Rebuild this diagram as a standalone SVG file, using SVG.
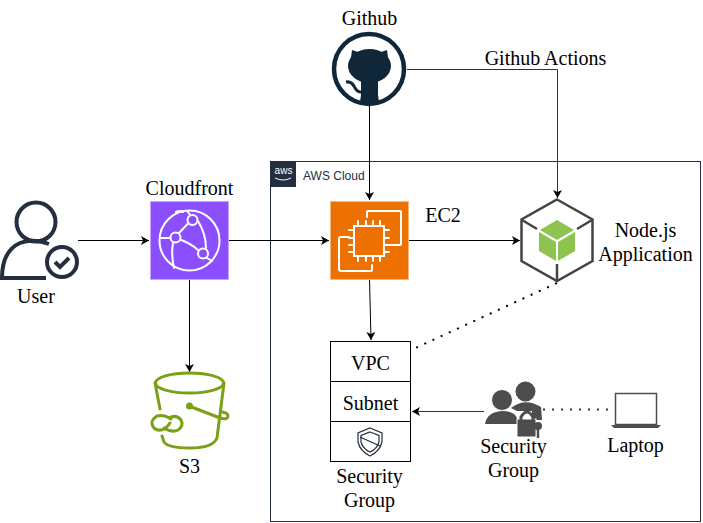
<svg xmlns="http://www.w3.org/2000/svg" width="703" height="523" viewBox="0 0 703 523">
<style>
.t{font-family:"Liberation Serif","Times New Roman",serif;font-size:20px;fill:#000;text-anchor:middle}
.c{fill:none;stroke:#000;stroke-width:1}
.w{fill:none;stroke:#fff;stroke-width:2;stroke-linecap:round;stroke-linejoin:round}
.box{fill:#fff;stroke:#000;stroke-width:1}
.g{fill:none;stroke:#7aa116;stroke-width:3;stroke-linecap:round}
.p{fill:#4d4d4d}
</style>
<defs>
<marker id="a" markerUnits="userSpaceOnUse" markerWidth="10" markerHeight="10" refX="8" refY="4.500" orient="auto"><path d="M0 0L8 4.500L0 9L2 4.500Z" fill="#000"/></marker>
</defs>
<rect width="703" height="523" fill="#fff"/>
<g id="aws-cloud">
<rect x="270.500" y="161.500" width="430" height="360" fill="#fff" stroke="#232f3e"/>
<rect x="271" y="162" width="25" height="25" fill="#232f3e"/>
<text x="283.500" y="174" font-family="Liberation Sans,sans-serif" font-size="10" fill="#fff" text-anchor="middle">aws</text>
<path d="M275 178q8.500 4 16 0" fill="none" stroke="#fff"/>
<text x="303" y="180" font-family="Liberation Sans,Arial,sans-serif" font-size="12" fill="#232f3e">AWS Cloud</text>
</g>
<g id="connectors">
<path class="c" d="M78 240.500H149" marker-end="url(#a)"/>
<path class="c" d="M229 240.500H329" marker-end="url(#a)"/>
<path class="c" d="M189.500 279V372" marker-end="url(#a)"/>
<path class="c" d="M369.500 106V200" marker-end="url(#a)"/>
<path class="c" d="M407 69.500H557.500V198" marker-end="url(#a)" stroke-opacity=".8"/>
<path class="c" d="M409 240.500H520" marker-end="url(#a)"/>
<path class="c" d="M369.500 279L371 340" marker-end="url(#a)"/>
<path class="c" d="M484 411.500H412" marker-end="url(#a)" stroke-opacity=".8"/>
<path d="M557 283L411 350" fill="none" stroke="#000" stroke-width="2" stroke-dasharray="2 7"/>
<path d="M543 409.500H612" fill="none" stroke="#000" stroke-width="2" stroke-dasharray="2 7" stroke-opacity=".8"/>
</g>
<g id="github">
<text class="t" x="369.500" y="25">Github</text>
<circle cx="369" cy="69" r="35" fill="#fff" stroke="#10273a" stroke-width="4.500"/>
<ellipse cx="369.500" cy="66" rx="21.500" ry="17" fill="#10273a"/>
<path d="M352 50L364 54H375L387 50L389 66H350ZM361 78H378V95L379 102H360L361 95Z" fill="#10273a"/>
<path d="M346 82Q352 81 355 88Q358 93 363 92" fill="none" stroke="#10273a" stroke-width="3"/>
</g>
<g id="github-actions"><text class="t" x="545.500" y="65">Github Actions</text></g>
<g id="user">
<circle cx="36" cy="222" r="19.500" fill="none" stroke="#232f3e" stroke-width="4"/>
<path d="M49 244Q33 238 20 243Q2 251 2 278H46" fill="none" stroke="#232f3e" stroke-width="4"/>
<circle cx="62" cy="262" r="15" fill="#fff" stroke="#232f3e" stroke-width="4"/>
<path d="M55 262L60 267L69 258" fill="none" stroke="#232f3e" stroke-width="4"/>
<text class="t" x="36" y="303">User</text>
</g>
<g id="cloudfront">
<text class="t" x="189.500" y="195">Cloudfront</text>
<rect x="150.500" y="201.500" width="78" height="78" fill="#8c4fff" stroke="#c5a5ff"/>
<circle cx="189.500" cy="240.500" r="30" class="w"/>
<circle cx="192.500" cy="220" r="5" class="w"/>
<circle cx="175.500" cy="237.500" r="5" class="w"/>
<circle cx="203" cy="253.500" r="5" class="w"/>
<path class="w" d="M188.500 223L179 233M181 240Q190 243 198 250M198 221Q206 234 206 248M170 238H161M173 243Q171 255 174 268M207 258L212 261M183 212Q180 210 176 212M190 215L188 212"/>
</g>
<g id="s3">
<ellipse cx="189.500" cy="383" rx="34" ry="10" fill="none" stroke="#7aa116" stroke-width="3"/>
<path class="g" d="M155 383L160 409M224 383L217 438Q213 448 190 448Q168 448 164 442L162 436M189 406L220 418Q228 420 228 416Q228 413 222 412"/>
<circle cx="189.500" cy="406" r="3.500" fill="#7aa116"/>
<path class="g" d="M171 419Q164 414 157 416Q151 420 152 424Q154 431 161 430Q166 429 170 423M164 428Q172 433 178 430Q184 426 181 420Q176 414 169 418"/>
<text class="t" x="189.500" y="473">S3</text>
</g>
<g id="ec2">
<rect x="330.500" y="201.500" width="78" height="78" fill="#ed7100" stroke="#f7b87f"/>
<rect x="354" y="226" width="30" height="30" fill="none" stroke="#fff" stroke-width="2"/>
<path class="w" d="M358 221v4M366 221v4M373 221v4M380 221v4M358 257v4M366 257v4M373 257v4M380 257v4M349 230h4M349 238h4M349 245h4M349 252h4M385 230h4M385 238h4M385 245h4M385 252h4M367 217V212Q367 211 368 211H400Q401 211 401 212V244Q401 245 400 245H390M349 237H341Q339 237 339 239V269Q339 271 341 271H371Q372 271 372 270V265"/>
<text class="t" x="443" y="222">EC2</text>
</g>
<g id="nodejs">
<path d="M557 199.500L592.500 219.500V261L557 281L521.500 261V219.500Z" fill="#fff" stroke="#444" stroke-width="2.500"/>
<path d="M522 220L537 229M592 220L577 229M557 281V264" fill="none" stroke="#444" stroke-width="2.500"/>
<path d="M557 220L540 230L557 240L574 230Z" fill="#8cc44f"/>
<path d="M539 232L556 242V261L539 251Z" fill="#8cc44f"/>
<path d="M575 232L558 242V261L575 251Z" fill="#8cc44f"/>
<text class="t" x="645.500" y="237">Node.js</text>
<text class="t" x="645.500" y="261">Application</text>
</g>
<g id="stack">
<rect class="box" x="330.500" y="341.500" width="80" height="40"/>
<rect class="box" x="330.500" y="381.500" width="80" height="40"/>
<rect class="box" x="330.500" y="421.500" width="80" height="40"/>
<text class="t" x="370.500" y="370">VPC</text>
<text class="t" x="370.500" y="410">Subnet</text>
<path d="M370 428L382 433V442Q380 451 370 456Q360 451 358 442V433Z" fill="none" stroke="#232f3e" stroke-width="1.200"/>
<path d="M370 432L379 435.500V442Q377 449 370 452Q363 449 361 442V435.500Z" fill="none" stroke="#232f3e" stroke-width="1.200"/>
<path d="M360 437L380 446" fill="none" stroke="#232f3e" stroke-width="1.200"/>
<text class="t" x="369.500" y="483">Security</text>
<text class="t" x="369.500" y="507">Group</text>
</g>
<g id="security-group">
<circle class="p" cx="525.500" cy="391.500" r="10"/>
<path class="p" d="M511 408Q525 397 541 407L542 420H532V411H517Z"/>
<circle cx="502" cy="400" r="10.500" fill="#4d4d4d" stroke="#fff"/>
<path class="p" d="M485 424Q487 412 502 411Q514 411 517 418V424Z"/>
<rect x="517" y="419" width="19" height="18" class="p" stroke="#fff"/>
<path d="M521 420V417Q527 407 533 417V420" fill="none" stroke="#4d4d4d" stroke-width="3"/>
<circle class="p" cx="538" cy="426" r="4"/>
<path d="M538 429V438" stroke="#4d4d4d" stroke-width="2.500"/>
<text class="t" x="513.500" y="453">Security</text>
<text class="t" x="513.500" y="477">Group</text>
</g>
<g id="laptop">
<rect x="615.500" y="393.500" width="41" height="31" fill="#fff" stroke="#4d4d4d" stroke-width="1.500"/>
<path class="p" d="M611 425H661L658 428H614Z"/>
<text class="t" x="635.500" y="452">Laptop</text>
</g>
</svg>
